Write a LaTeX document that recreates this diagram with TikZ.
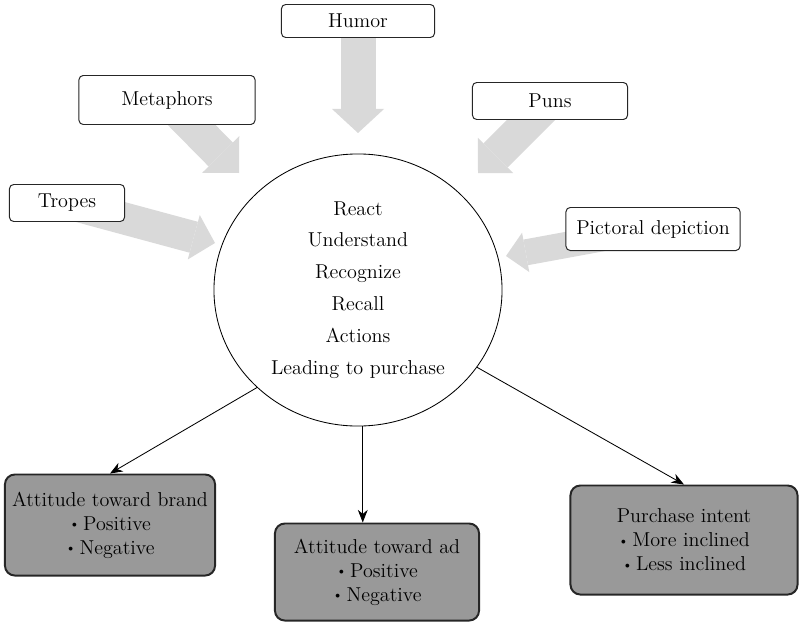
\documentclass[tikz,border=0pt]{standalone}
\usepackage{tikz}
\usetikzlibrary{positioning, arrows.meta, calc, shapes.geometric, backgrounds}
\definecolor{arrowgray}{HTML}{D9D9D9}
\definecolor{boxgray}{HTML}{999999}
\definecolor{edgegray}{HTML}{262626}
\newcommand{\itemdot}{\raisebox{0.15ex}{\scalebox{0.7}{\textbullet}}\,}

\begin{document}
\begin{tikzpicture}[x=0.025cm, y=-0.025cm,
  every node/.style={font=\fontsize{14.3}{17}\selectfont},
  srcbox/.style={draw=edgegray, line width=0.7pt, rounded corners=3pt, fill=white, align=center, inner sep=0pt},
  outbox/.style={draw=black!85, line width=1.4pt, rounded corners=7pt, fill=boxgray, align=center, inner sep=0pt},
  fatarrow/.style n args={3}{draw=arrowgray, line width=#1, -{Triangle[width=#2, length=#3, line width=0pt]}},
  link/.style={semithick, -{Stealth[length=9pt, width=7pt]}}]
  \useasboundingbox (0,0) rectangle (799,623);

  % centre
  \node[draw, semithick, ellipse, minimum width=7.2cm, minimum height=6.8cm, inner sep=0pt, align=center,
        font=\fontsize{14.3}{22.7}\selectfont] (mind) at (358,290)
        {React\\Understand\\Recognize\\Recall\\Actions\\Leading to purchase};

  % devices
  \node[srcbox, minimum width=3.825cm, minimum height=0.825cm] (humor) at (358,21) {Humor};
  \node[srcbox, minimum width=4.4cm, minimum height=1.225cm] (metaphors) at (167,100) {Metaphors};
  \node[srcbox, minimum width=2.875cm, minimum height=0.925cm] (tropes) at (67,203) {Tropes};
  \node[srcbox, minimum width=3.875cm, minimum height=0.925cm] (puns) at (550,101) {Puns};
  \node[srcbox, minimum width=4.35cm, minimum height=1.075cm] (pictoral) at (653,229) {Pictoral depiction};

  % outcomes
  \node[outbox, minimum width=5.25cm, minimum height=2.525cm] (brand) at (110,525)
    {Attitude toward brand\\\itemdot Positive\\\itemdot Negative};
  \node[outbox, minimum width=5.1cm, minimum height=2.425cm] (ad) at (377,572)
    {Attitude toward ad\\\itemdot Positive\\\itemdot Negative};
  \node[outbox, minimum width=5.675cm, minimum height=2.725cm] (intent) at (684,540)
    {Purchase intent\\\itemdot More inclined\\\itemdot Less inclined};

  % tips of the grey arrows
  \coordinate (humortip) at (358,133);
  \coordinate (metaphortip) at (239,173);
  \coordinate (tropetip) at (215,243);
  \coordinate (puntip) at (478,173);
  \coordinate (pictoraltip) at (506,256);

  \begin{pgfonlayer}{background}
    \draw[fatarrow={0.875cm}{1.3cm}{0.6cm}] (humor.center) -- (humortip);
    \draw[fatarrow={0.85cm}{1.3cm}{0.65cm}] (metaphors.center) -- (metaphortip);
    \draw[fatarrow={0.8cm}{1.15cm}{0.55cm}] (tropes.center) -- (tropetip);
    \draw[fatarrow={0.85cm}{1.25cm}{0.62cm}] (puns.center) -- (puntip);
    \draw[fatarrow={0.65cm}{1.0cm}{0.5cm}] (pictoral.center) -- (pictoraltip);
  \end{pgfonlayer}

  \draw[link] (mind.224) -- (brand.north);
  \draw[link] (mind.-88) -- (mind.-88 |- ad.north);
  \draw[link] (mind.-33) -- (intent.north);
\end{tikzpicture}
\end{document}
